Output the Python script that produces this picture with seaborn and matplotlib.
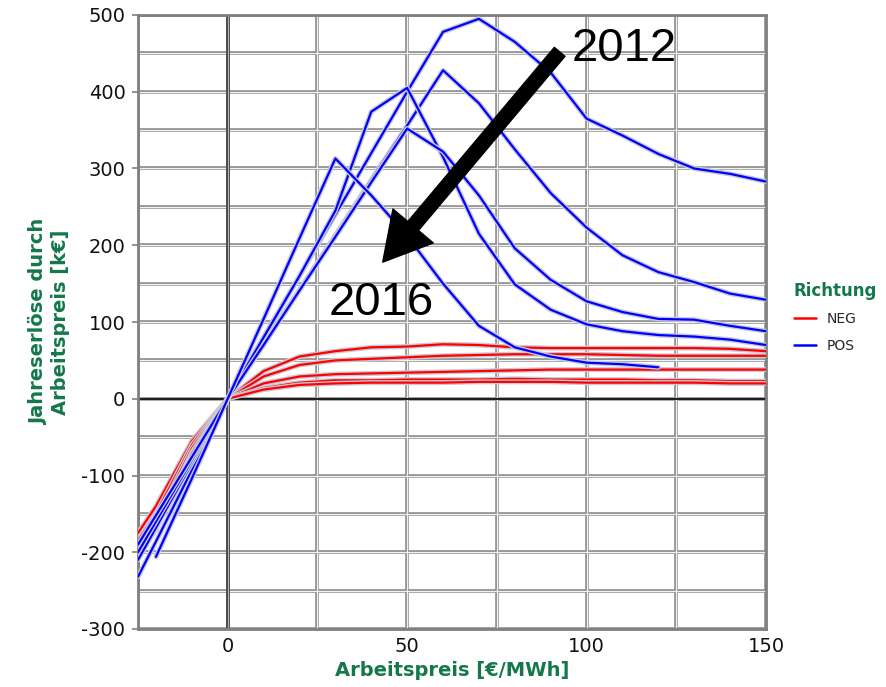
import numpy as np
import pandas as pd
import matplotlib
matplotlib.use("Agg")
import matplotlib.pyplot as plt
import matplotlib.patheffects as pe
from matplotlib.ticker import MultipleLocator, FuncFormatter
import seaborn as sns

# ---------------- data ----------------
x_all = [-25, -20, -10, 0, 10, 20, 30, 40, 50, 60, 70, 80, 90, 100, 110, 120, 130, 140, 150]

pos_2012 = [-232, -186, -93, 0, 80, 160, 240, 320, 400, 478, 495, 465, 425, 365, 343, 319, 300, 293, 283]
pos_2013 = [-210, -168, -84, 0, 71, 142, 213, 285, 356, 428, 385, 325, 268, 223, 187, 165, 152, 137, 129]
pos_2014 = [-200, -160, -80, 0, 80, 160, 245, 374, 405, 315, 215, 149, 116, 97, 88, 83, 81, 77, 70]
pos_2015 = [-190, -152, -76, 0, 70, 141, 211, 282, 352, 322, 265, 196, 155, 127, 113, 104, 103, 95, 88]
pos_2016 = [np.nan, -206, -104, 0, 104, 209, 313, 265, 212, 150, 95, 67, 55, 47, 45, 41, np.nan, np.nan, np.nan]

neg_2012 = [-175, -140, -55, 0, 36, 55, 62, 67, 68, 71, 70, 67, 66, 66, 66, 66, 66, 65, 62]
neg_2013 = [-185, -150, -60, 0, 29, 44, 50, 52, 54, 56, 57, 58, 58, 58, 57, 56, 56, 56, 56]
neg_2014 = [-195, -158, -65, 0, 20, 29, 32, 33, 34, 35, 36, 37, 38, 38, 38, 38, 38, 38, 38]
neg_2015 = [-200, -165, -70, 0, 14, 21, 24, 24, 25, 25, 25, 26, 25, 25, 25, 24, 24, 23, 23]
neg_2016 = [-205, -170, -72, 0, 12, 18, 20, 21, 21, 21, 22, 22, 22, 21, 21, 21, 21, 20, 20]

curves = {
    ("NEG", "2012"): neg_2012, ("NEG", "2013"): neg_2013, ("NEG", "2014"): neg_2014,
    ("NEG", "2015"): neg_2015, ("NEG", "2016"): neg_2016,
    ("POS", "2012"): pos_2012, ("POS", "2013"): pos_2013, ("POS", "2014"): pos_2014,
    ("POS", "2015"): pos_2015, ("POS", "2016"): pos_2016,
}

rows = []
for (richtung, jahr), vals in curves.items():
    for xv, yv in zip(x_all, vals):
        if not np.isnan(yv):
            rows.append({"Arbeitspreis": xv, "Erloese": yv, "Richtung": richtung,
                         "Kurve": f"{richtung}_{jahr}"})
df = pd.DataFrame(rows)

# ---------------- style ----------------
sns.set_style("white")
plt.rcParams["font.family"] = ["DejaVu Sans"]
plt.rcParams["axes.unicode_minus"] = False
GREEN = "#14784a"

fig = plt.figure(figsize=(8.87, 6.87), dpi=100)
ax = fig.add_axes([138 / 887, 1 - 629 / 687, (766 - 138) / 887, (629 - 15) / 687])

sns.lineplot(data=df, x="Arbeitspreis", y="Erloese", hue="Richtung", units="Kurve",
             estimator=None, sort=False, palette={"NEG": "#ff0000", "POS": "#0000ff"},
             hue_order=["NEG", "POS"], linewidth=1.6, ax=ax, zorder=3)

for ln in ax.lines:
    ln.set_path_effects([pe.Stroke(linewidth=3.6, foreground="#c9c9d6"), pe.Normal()])

ax.set_xlim(-25, 150)
ax.set_ylim(-300, 500)
ax.xaxis.set_major_locator(MultipleLocator(50))
ax.xaxis.set_minor_locator(MultipleLocator(25))
ax.yaxis.set_major_locator(MultipleLocator(100))
ax.yaxis.set_minor_locator(MultipleLocator(50))
ax.xaxis.set_major_formatter(FuncFormatter(lambda v, p: f"{v:.0f}" if v >= 0 else ""))
ax.yaxis.set_major_formatter(FuncFormatter(lambda v, p: f"{v:.0f}"))

ax.set_axisbelow(True)
ax.grid(which="both", color="#8c8c8c", linewidth=2.6, zorder=0.5)
for v in np.arange(-25, 151, 25):
    ax.axvline(v, color="#f2f2f2", lw=0.9, zorder=0.6)
for v in np.arange(-300, 501, 50):
    ax.axhline(v, color="#f2f2f2", lw=0.9, zorder=0.6)
ax.axvline(0, color="#4a4a4a", lw=2.8, zorder=0.7)
ax.axvline(0, color="#b0b0b0", lw=0.8, zorder=0.8)
ax.axhline(0, color="#1a1a1a", lw=1.4, zorder=0.8)

for s in ax.spines.values():
    s.set_color("#808080")
    s.set_linewidth(2)

ax.tick_params(axis="y", which="major", length=4, width=1.2, color="#808080",
               labelsize=14, labelcolor="#111111", pad=5, left=True)
ax.tick_params(axis="y", which="minor", length=0)
ax.tick_params(axis="x", which="both", length=0, labelsize=14, labelcolor="#111111", pad=6)

ax.set_xlabel("Arbeitspreis [€/MWh]", fontsize=14, fontweight="bold", color=GREEN, labelpad=3)
ax.set_ylabel("Jahreserlöse durch\nArbeitspreis [k€]", fontsize=14, fontweight="bold",
              color=GREEN, labelpad=8, linespacing=1.25)

handles, labels = ax.get_legend_handles_labels()
for h in handles:
    h.set_linewidth(1.8)
    h.set_path_effects([])
leg = ax.legend(handles, labels, title="Richtung", loc="upper left",
                bbox_to_anchor=(788 / 887, 1 - 276 / 687), bbox_transform=fig.transFigure,
                frameon=False, fontsize=10, handlelength=1.6, handletextpad=0.8,
                labelspacing=0.9, borderaxespad=0)
leg.get_title().set_fontsize(12)
leg.get_title().set_fontweight("bold")
leg.get_title().set_color(GREEN)
leg._legend_box.align = "left"

# arrow and year annotations
ax.annotate("", xy=(43.2, 178), xytext=(92.5, 452),
            arrowprops=dict(width=10, headwidth=38, headlength=34, color="black", shrink=0),
            zorder=5, annotation_clip=False)
ax.text(95.8, 456, "2012", fontsize=34, family="Liberation Sans", ha="left", va="center",
        color="black", zorder=6)
ax.text(28.2, 125, "2016", fontsize=34, family="Liberation Sans", ha="left", va="center",
        color="black", zorder=6)

fig.savefig("out.png", dpi=100)
